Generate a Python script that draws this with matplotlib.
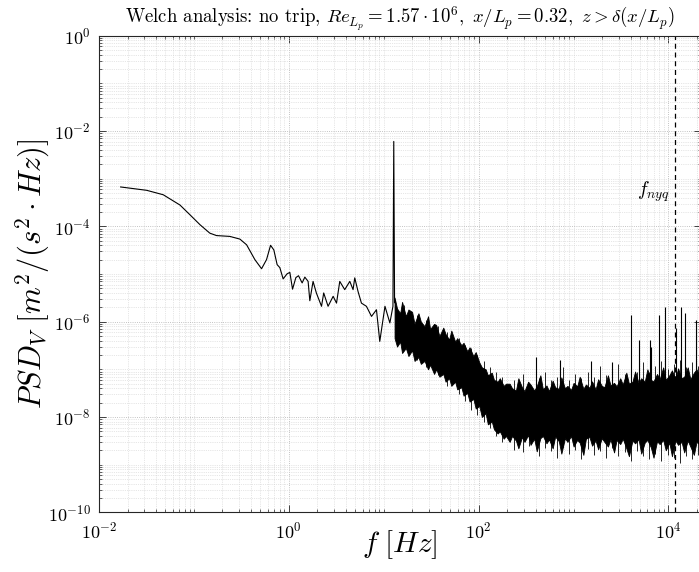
import numpy as np
import matplotlib
matplotlib.use('Agg')
import matplotlib.pyplot as plt
from matplotlib.ticker import FixedLocator, LogLocator, NullFormatter, LogFormatterSciNotation

plt.rcParams['font.family'] = 'serif'
plt.rcParams['font.serif'] = ['cmr10', 'DejaVu Serif']
plt.rcParams['mathtext.fontset'] = 'cm'
plt.rcParams['axes.unicode_minus'] = False
plt.rcParams['axes.formatter.use_mathtext'] = True

# Low-frequency part of the Welch spectrum (smooth part + the big peak)
low_f = [0.0169, 0.0318, 0.0475, 0.0713, 0.0908, 0.116, 0.147, 0.173, 0.239, 0.305,
         0.359, 0.439, 0.516, 0.582, 0.642, 0.695, 0.753, 0.804, 0.871, 0.959,
         1.025, 1.094, 1.186, 1.265, 1.381, 1.474, 1.596, 1.664, 1.80, 1.95,
         2.21, 2.33, 2.59, 2.93, 3.18, 3.44, 3.88, 4.39, 4.75, 4.95,
         5.36, 5.82, 6.57, 7.43, 8.38, 9.08, 10.3, 11.6, 12.5, 12.75, 13.0]
low_psd = [6.7e-4, 5.7e-4, 4.6e-4, 2.8e-4, 1.75e-4, 1.08e-4, 7.2e-5, 6.4e-5, 6.15e-5, 5.4e-5,
           4.1e-5, 2.0e-5, 1.29e-5, 2.0e-5, 4.0e-5, 3.2e-5, 1.57e-5, 1.36e-5, 7.9e-6, 1.01e-5,
           1.08e-5, 4.8e-6, 8.4e-6, 9.2e-6, 6.5e-6, 8.6e-6, 7.0e-6, 2.75e-6, 7.0e-6, 4.0e-6,
           2.1e-6, 4.0e-6, 2.1e-6, 3.4e-6, 2.45e-6, 7.0e-6, 4.7e-6, 7.0e-6, 4.7e-6, 8.3e-6,
           4.3e-6, 2.45e-6, 2.1e-6, 1.29e-6, 1.78e-6, 3.85e-7, 2.1e-6, 9.4e-7, 2.1e-6, 6.05e-3, 2.5e-6]

# Noisy part: upper / lower envelope of the dense band
band_f = [13, 13.8, 14.9, 15.6, 17.1, 18.2, 19.9, 21.1, 23.2, 24.6,
          26.9, 29.3, 30.8, 33.9, 35.7, 38.6, 42.4, 44.8, 48.9, 51.5,
          56.6, 59.4, 65.8, 69.3, 75.9, 80.2, 87.9, 93.1, 101.5,
          108, 118.5, 125, 137.5, 145, 158.5, 167, 183.5, 194,
          212, 225, 247, 262, 286, 304, 332, 352, 385, 409,
          447, 475, 518, 551, 602, 640, 699, 743, 811, 862,
          941, 1000, 1092, 1160, 1268, 1348, 1470, 1565, 1706, 1815,
          1982, 2110, 2300, 2448, 2670, 2840, 3100, 3300, 3595, 3830,
          4170, 4445, 4840, 5160, 5620, 5990, 6520, 6950, 7570, 8070,
          8790, 9360, 10200, 10870, 11840, 12610, 13740, 14640, 15950, 16990,
          18510, 19720, 21500]
band_hi = [3.2e-6, 1.9e-6, 1.5e-6, 2.6e-6, 1.3e-6, 1.8e-6, 1.6e-6, 9e-7, 1.5e-6, 1.0e-6,
           8e-7, 1.3e-6, 7e-7, 9e-7, 8.5e-7, 5e-7, 7.5e-7, 5.5e-7, 4.2e-7, 6.5e-7,
           3.8e-7, 4.5e-7, 3.2e-7, 3.6e-7, 2.4e-7, 2.9e-7, 1.9e-7, 2.3e-7, 1.4e-7,
           1.1e-7, 1.0e-7, 7.5e-8, 8.5e-8, 6e-8, 5.5e-8, 6.5e-8, 4.5e-8, 5e-8,
           5e-8, 4e-8, 3.6e-8, 6.5e-8, 4.2e-8, 3.5e-8, 5.5e-8, 4.8e-8, 3.6e-8, 4.4e-8,
           7.5e-8, 3.8e-8, 4.6e-8, 3.5e-8, 5.8e-8, 4.2e-8, 3.9e-8, 6.8e-8, 4e-8, 4.5e-8,
           3.7e-8, 5.2e-8, 4.4e-8, 7e-8, 3.9e-8, 4.8e-8, 4.1e-8, 5.6e-8, 3.8e-8, 6.2e-8,
           4.5e-8, 4.2e-8, 7.5e-8, 4.6e-8, 5.2e-8, 4.4e-8, 6.5e-8, 4.8e-8, 8.5e-8, 5e-8,
           5.5e-8, 9e-8, 5.2e-8, 6.5e-8, 5.5e-8, 1e-7, 6e-8, 5.6e-8, 8e-8, 6.2e-8,
           1.1e-7, 6e-8, 7.5e-8, 9.5e-8, 6.2e-8, 1.05e-7, 6.5e-8, 7e-8, 1.1e-7, 6.2e-8,
           8.5e-8, 1e-7, 7e-8]
band_lo = [4.5e-7, 3e-7, 3.8e-7, 2.2e-7, 2.8e-7, 1.9e-7, 2.5e-7, 1.5e-7, 1.8e-7, 1.3e-7,
           1.5e-7, 1.0e-7, 1.25e-7, 8e-8, 1.0e-7, 7e-8, 8e-8, 5.5e-8, 6.5e-8, 4.5e-8,
           5.5e-8, 3.8e-8, 4.2e-8, 2.8e-8, 3.2e-8, 2.1e-8, 2.4e-8, 1.5e-8, 1.7e-8,
           1.0e-8, 1.2e-8, 7e-9, 8e-9, 5.5e-9, 4.5e-9, 5e-9, 3.5e-9, 4e-9,
           3e-9, 4e-9, 3.2e-9, 2.2e-9, 3.8e-9, 3e-9, 4.2e-9, 2.6e-9, 3.5e-9, 1.9e-9,
           3.6e-9, 4e-9, 2.8e-9, 3.4e-9, 2.2e-9, 3.9e-9, 3.1e-9, 1.7e-9, 3.6e-9, 3e-9,
           4e-9, 2.4e-9, 3.3e-9, 2.9e-9, 1.6e-9, 3.5e-9, 3.8e-9, 2.5e-9, 3.2e-9, 2.1e-9,
           3.6e-9, 3e-9, 2.4e-9, 3.4e-9, 1.8e-9, 3.3e-9, 2.7e-9, 3.5e-9, 2.2e-9, 1.5e-9,
           3.2e-9, 2.8e-9, 3.4e-9, 1.7e-9, 2.9e-9, 3.3e-9, 2.3e-9, 1.4e-9, 3.1e-9, 2.7e-9,
           3.3e-9, 2e-9, 2.9e-9, 1.5e-9, 3.2e-9, 2.6e-9, 3e-9, 1.8e-9, 3.2e-9, 2.4e-9,
           1.6e-9, 3e-9, 2.6e-9]

# Single hairs sticking out of the band
hair_f = [16.3, 22.2, 28.1, 37.2, 46.5, 62, 72, 84, 97, 113,
          131, 152, 176, 236, 296, 342, 430, 498, 578, 668,
          775, 900, 1045, 1210, 1405, 1640, 1900, 2200, 2550, 2960,
          3450, 3990, 4640, 5390, 6260, 7260, 8430, 9780, 11300, 13200,
          15300, 17800, 20600]
hair_top = [2.2e-6, 1.4e-6, 1.1e-6, 8e-7, 6e-7, 4.5e-7, 3.3e-7, 2.8e-7, 2e-7, 1.5e-7,
            1.1e-7, 9e-8, 7e-8, 6e-8, 8e-8, 5e-8, 6.5e-8, 9e-8, 6e-8, 7e-8,
            1.1e-7, 6e-8, 8e-8, 6.5e-8, 9e-8, 7e-8, 1.2e-7, 7.5e-8, 9e-8, 1.3e-7,
            8e-8, 1.1e-7, 9e-8, 1.4e-7, 9e-8, 1.2e-7, 1.5e-7, 1e-7, 1.3e-7, 1.6e-7,
            1.1e-7, 1.4e-7, 1.2e-7]
hair_bot = [2.6e-7, 1.6e-7, 1.1e-7, 7.5e-8, 4.5e-8, 3e-8, 2.2e-8, 1.4e-8, 1.1e-8, 8e-9,
            6e-9, 4e-9, 3e-9, 2e-9, 1.8e-9, 2.5e-9, 1.5e-9, 2.2e-9, 1.9e-9, 1.4e-9,
            2.3e-9, 1.7e-9, 2e-9, 1.3e-9, 2.1e-9, 1.6e-9, 1.9e-9, 1.4e-9, 2.2e-9, 1.5e-9,
            1.8e-9, 1.2e-9, 1.9e-9, 1.5e-9, 1.3e-9, 1.7e-9, 1.2e-9, 1.6e-9, 1.4e-9, 1.1e-9,
            1.5e-9, 1.3e-9, 1.6e-9]

# Narrow tonal spikes above the noise floor
spike_f = [400, 720, 1535, 2512, 4046, 4864, 6310, 6570, 8035, 9290, 12050, 13600, 15100, 19600]
spike_psd = [1.8e-7, 1.6e-7, 1.5e-7, 1.45e-7, 1.4e-6, 4.2e-7, 4.2e-7, 3.0e-7, 1.4e-6, 2.0e-6,
             7.5e-7, 2.0e-6, 1.5e-6, 1.1e-6]

f_nyq = 11600

fig = plt.figure(figsize=(6.99, 5.72), dpi=100)
ax = fig.add_axes([99/699, 1 - 512.3/572, 602/699, 476.6/572])
ax.set_axisbelow(True)

ax.plot(low_f, low_psd, color='k', lw=0.8)
ax.fill_between(band_f, band_lo, band_hi, color='k', lw=0.6)
ax.vlines(hair_f, hair_bot, hair_top, color='k', lw=0.6)
ax.vlines(spike_f, 3e-8, spike_psd, color='k', lw=0.8)

ax.axvline(f_nyq, color='k', ls=(0, (4, 3)), lw=0.9)
ax.annotate(r'$f_{nyq}$', xy=(f_nyq, 5.3e-4), xytext=(-4, 0), textcoords='offset points',
            ha='right', va='center', fontsize=14)

ax.set_xscale('log')
ax.set_yscale('log')
ax.set_xlim(1e-2, 2.2e4)
ax.set_ylim(1e-10, 1e0)

ax.xaxis.set_major_locator(FixedLocator([1e-2, 1e0, 1e2, 1e4]))
ax.yaxis.set_major_locator(FixedLocator([1e-10, 1e-8, 1e-6, 1e-4, 1e-2, 1e0]))
ax.xaxis.set_major_formatter(LogFormatterSciNotation())
ax.yaxis.set_major_formatter(LogFormatterSciNotation())
for a in (ax.xaxis, ax.yaxis):
    a.set_minor_locator(LogLocator(base=10, subs=np.arange(1, 10), numticks=100))
    a.set_minor_formatter(NullFormatter())

ax.tick_params(which='both', direction='in', top=True, right=True, color='#262626')
ax.tick_params(which='major', length=5, width=0.6, labelsize=13, pad=6)
ax.tick_params(which='minor', length=2.5, width=0.5)
ax.grid(which='major', ls=':', color='#b0b0b0', lw=0.6)
ax.grid(which='minor', ls=':', color='#cfcfcf', lw=0.5)
for s in ax.spines.values():
    s.set_color('#262626')
    s.set_linewidth(0.8)

ax.set_xlabel(r'$f\ [Hz]$', fontsize=21)
ax.set_ylabel(r'$PSD_V\ [m^2/(s^2\cdot Hz)]$', fontsize=22)
ax.xaxis.set_label_coords(0.5, -0.033)
ax.yaxis.set_label_coords(-0.078, 0.5)

ax.text(0.5, 1.036, r'Welch analysis: no trip, $Re_{L_p} = 1.57 \cdot 10^6,\ x/L_p = 0.32,\ z > \delta(x/L_p)$',
        transform=ax.transAxes, ha='center', va='center', fontsize=13.5)

fig.savefig('out.png', dpi=100)
